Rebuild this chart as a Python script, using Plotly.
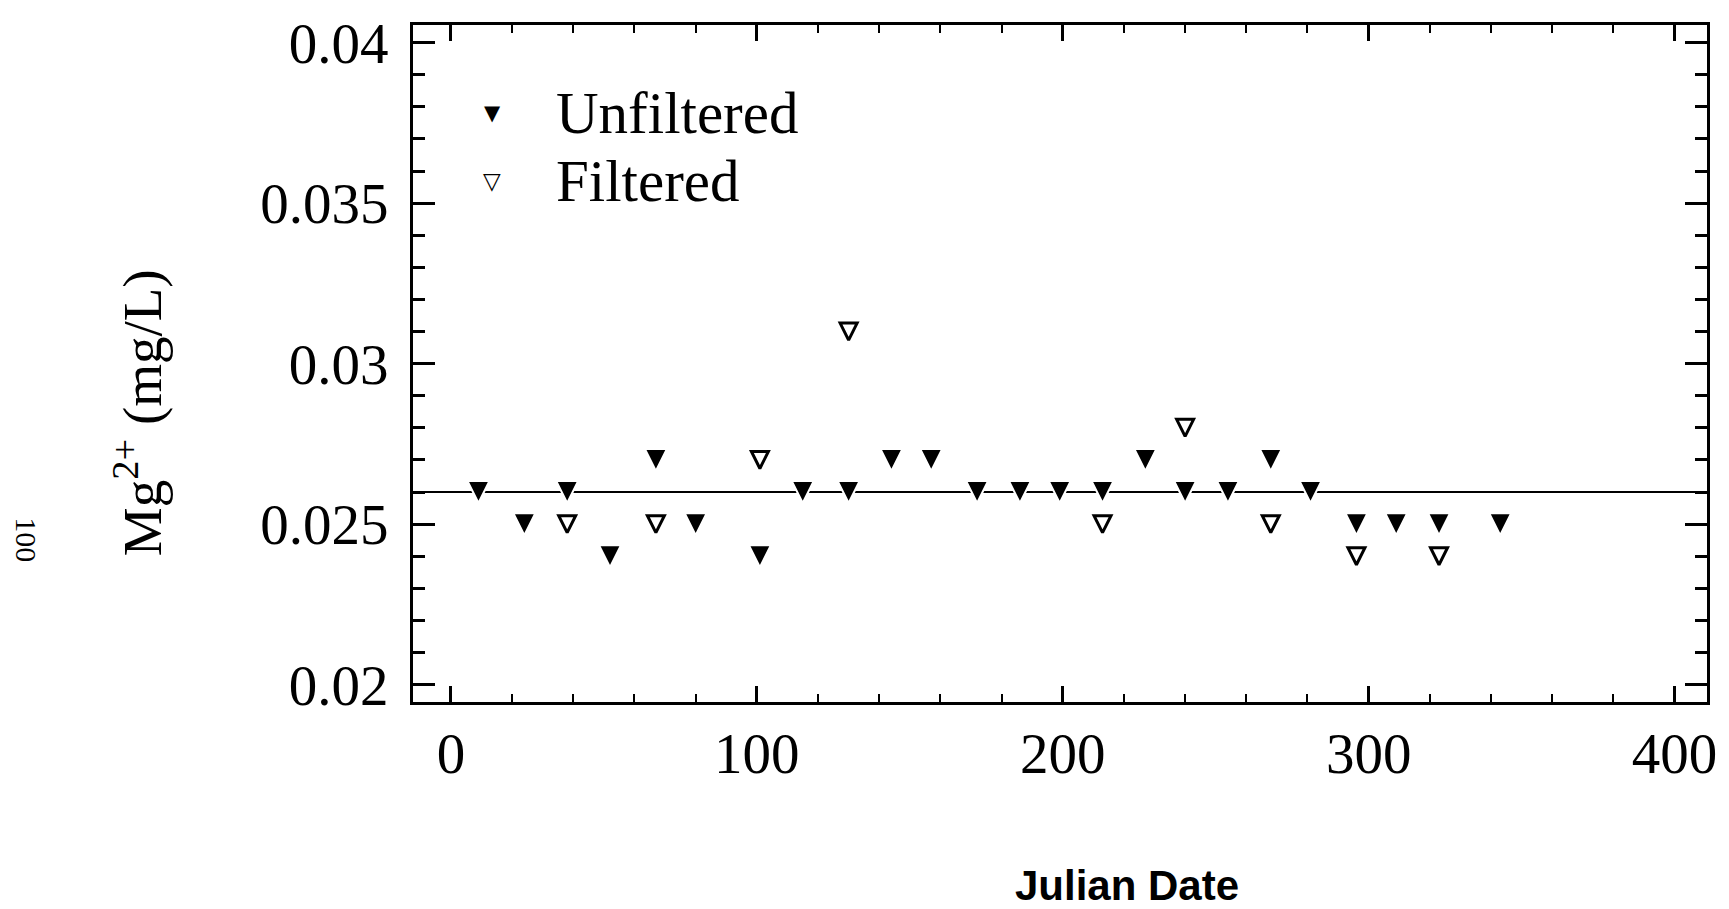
import plotly.graph_objects as go

# ---- data ----
unf_day = [9, 24, 38, 52, 67, 80, 101, 115, 130, 144, 157, 172, 186, 199,
           213, 227, 240, 254, 268, 281, 296, 309, 323, 343]
unf_mg = [0.026, 0.025, 0.026, 0.024, 0.027, 0.025, 0.024, 0.026, 0.026, 0.027,
          0.027, 0.026, 0.026, 0.026, 0.026, 0.027, 0.026, 0.026, 0.027, 0.026,
          0.025, 0.025, 0.025, 0.025]
fil_day = [38, 67, 101, 130, 213, 240, 268, 296, 323]
fil_mg = [0.025, 0.025, 0.027, 0.031, 0.025, 0.028, 0.025, 0.024, 0.024]
ref_level = 0.026

x_tickvals = [0, 100, 200, 300, 400]
x_ticktext = ["0", "100", "200", "300", "400"]
y_tickvals = [0.02, 0.025, 0.03, 0.035, 0.04]
y_ticktext = ["0.02", "0.025", "0.03", "0.035", "0.04"]

legend_labels = ["Unfiltered", "Filtered"]
legend_glyphs = ["\u25BC", "<b>\u25BD</b>"]

SERIF = "Liberation Serif, Times New Roman, serif"

fig = go.Figure()

fig.add_trace(go.Scatter(
    x=unf_day, y=unf_mg, mode="markers", name=legend_labels[0],
    showlegend=False,
    marker=dict(symbol="arrow-down", size=22, color="black", standoff=11,
                line=dict(color="white", width=2)),
))
fig.add_trace(go.Scatter(
    x=fil_day, y=fil_mg, mode="markers", name=legend_labels[1],
    showlegend=False,
    marker=dict(symbol="arrow-down-open", size=17, color="black", standoff=8.5,
                line=dict(color="black", width=3)),
))

fig.add_shape(type="line", xref="x domain", x0=0, x1=1, yref="y",
              y0=ref_level, y1=ref_level, layer="below",
              line=dict(color="black", width=2))

axis_common = dict(
    showgrid=False, zeroline=False, showline=True, linecolor="black",
    linewidth=3, mirror="ticks", ticks="inside", tickcolor="black",
    tickwidth=2.5,
    tickfont=dict(family=SERIF, size=57, color="black"),
)

fig.update_xaxes(
    **axis_common, range=[-12.4, 410.6], tickmode="array",
    tickvals=x_tickvals, ticktext=x_ticktext, ticklen=16,
    ticklabelstandoff=0,
    minor=dict(dtick=20, tick0=0, ticks="inside", ticklen=8, tickwidth=2,
               tickcolor="black"),
)
fig.update_yaxes(
    **axis_common, range=[0.01946, 0.04055], tickmode="array",
    tickvals=y_tickvals, ticktext=y_ticktext, ticklen=22,
    ticklabelstandoff=10,
    minor=dict(dtick=0.001, tick0=0.02, ticks="inside", ticklen=12,
               tickwidth=2.5, tickcolor="black"),
)

# manual legend (symbols + labels) in the upper-left corner of the plot
legend_rows_y = [0.8695, 0.7700]
legend_glyph_sizes = [21, 23]
for glyph, gsize, label, yy in zip(legend_glyphs, legend_glyph_sizes,
                                   legend_labels, legend_rows_y):
    fig.add_annotation(
        text=glyph, xref="paper", yref="paper", x=0.0612, y=yy,
        xanchor="center", yanchor="middle", showarrow=False,
        font=dict(family="DejaVu Sans", size=gsize, color="black"),
    )
    fig.add_annotation(
        text=label, xref="paper", yref="paper", x=0.1088, y=yy,
        xanchor="left", yanchor="middle", showarrow=False,
        font=dict(family=SERIF, size=59, color="black"),
    )

fig.add_annotation(
    text="Mg<sup>2+</sup> (mg/L)", xref="paper", yref="paper",
    x=-0.2115, y=0.427, xanchor="center", yanchor="middle", textangle=-90,
    showarrow=False, font=dict(family=SERIF, size=55, color="black"),
)
fig.add_annotation(
    text="<b>Julian Date</b>", xref="paper", yref="paper",
    x=0.552, y=-0.271, xanchor="center", yanchor="middle",
    showarrow=False,
    font=dict(family="Liberation Sans, Arial, sans-serif", size=42, color="black"),
)
fig.add_annotation(
    text="100", xref="paper", yref="paper",
    x=-0.2988, y=0.24, xanchor="center", yanchor="middle", textangle=90,
    showarrow=False, font=dict(family=SERIF, size=30, color="black"),
)

fig.update_layout(
    width=1729, height=909,
    margin=dict(l=413, r=15, t=15, b=207),
    paper_bgcolor="white", plot_bgcolor="white",
    showlegend=False,
)

fig.write_html("out.html")
